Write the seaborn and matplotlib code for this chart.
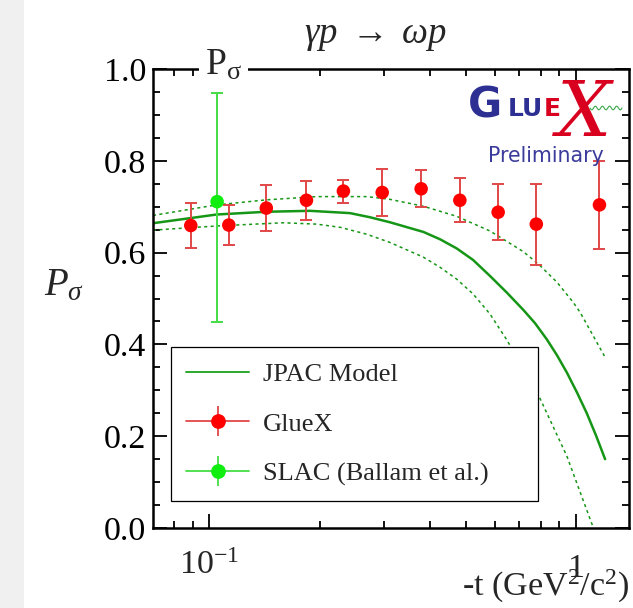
import numpy as np
import matplotlib
matplotlib.use("Agg")
import matplotlib.pyplot as plt
import matplotlib.transforms as mtransforms
import seaborn as sns
from matplotlib.lines import Line2D
from matplotlib.collections import LineCollection
from matplotlib.container import ErrorbarContainer
from matplotlib.legend_handler import HandlerErrorbar
from matplotlib.ticker import FixedLocator, NullFormatter, MultipleLocator, FuncFormatter

# GlueX beam asymmetry P_sigma vs -t
gluex_t = [0.089, 0.113, 0.143, 0.184, 0.232, 0.296, 0.378, 0.482, 0.613, 0.779, 1.158]
gluex_p = [0.659, 0.660, 0.697, 0.714, 0.734, 0.731, 0.739, 0.714, 0.688, 0.662, 0.704]
gluex_err = [0.048, 0.043, 0.051, 0.042, 0.025, 0.052, 0.040, 0.048, 0.061, 0.088, 0.096]

# SLAC measurement (Ballam et al.)
slac_t = [0.105]
slac_p = [0.711]
slac_err_lo = [0.263]
slac_err_hi = [0.236]

# JPAC model: central curve and uncertainty band edges
jpac_t = [0.0702, 0.1047, 0.1434, 0.1882, 0.2419, 0.2742, 0.311, 0.3835, 0.4257,
          0.4728, 0.5237, 0.5826, 0.6471, 0.7183, 0.7731, 0.8321, 0.8875, 0.9432,
          1.006, 1.0695, 1.134, 1.1998]
jpac_p = [0.664, 0.683, 0.689, 0.691, 0.686, 0.677, 0.666, 0.645, 0.629,
          0.609, 0.584, 0.549, 0.513, 0.475, 0.446, 0.411, 0.376, 0.339,
          0.295, 0.250, 0.201, 0.150]

band_hi_t = [0.0702, 0.1047, 0.1434, 0.1963, 0.2687, 0.311, 0.3835, 0.4728, 0.5826,
             0.7183, 0.7943, 0.8857, 0.9813, 1.0254, 1.1998]
band_hi_p = [0.681, 0.704, 0.715, 0.722, 0.722, 0.716, 0.701, 0.679, 0.647,
             0.602, 0.573, 0.536, 0.492, 0.470, 0.372]

band_lo_t = [0.0702, 0.1047, 0.1591, 0.1963, 0.2276, 0.2687, 0.311, 0.3835, 0.4257,
             0.4728, 0.5237, 0.5826, 0.6471, 0.7943, 0.9432, 1.1148]
band_lo_p = [0.649, 0.658, 0.665, 0.662, 0.655, 0.640, 0.622, 0.590, 0.568,
             0.542, 0.510, 0.466, 0.410, 0.285, 0.157, 0.0]

x_minor = [0.08, 0.09, 0.2, 0.3, 0.4, 0.5, 0.6, 0.7, 0.8, 0.9]

sns.set_theme(style="ticks")
plt.rcParams["font.family"] = ["Liberation Serif", "DejaVu Serif"]
plt.rcParams["mathtext.fontset"] = "custom"
plt.rcParams["mathtext.rm"] = "Liberation Serif"
plt.rcParams["mathtext.it"] = "Liberation Serif:italic"
plt.rcParams["mathtext.bf"] = "Liberation Serif:bold"

W, H = 633, 608
fig = plt.figure(figsize=(W / 100, H / 100), dpi=100)
fig.patch.set_facecolor("white")
fig.add_artist(plt.Rectangle((0, 0), 24 / W, 1, transform=fig.transFigure,
                             facecolor="#f0f0f0", edgecolor="none", zorder=0))

L, R, T, B = 153, 629, 69, 528
ax = fig.add_axes([L / W, (H - B) / H, (R - L) / W, (B - T) / H])
ax.set_facecolor("white")

GREEN = "#169616"
RED = "#ff0000"
RED_BAR = "#e04848"
LGREEN = "#10ee10"
LGREEN_BAR = "#44dd44"

# model curves
sns.lineplot(x=jpac_t, y=jpac_p, ax=ax, color=GREEN, lw=1.8, sort=False,
             estimator=None, legend=False, zorder=2)
for bt, bp in ((band_hi_t, band_hi_p), (band_lo_t, band_lo_p)):
    sns.lineplot(x=bt, y=bp, ax=ax, color=GREEN, lw=1.1, sort=False,
                 estimator=None, legend=False, zorder=2, linestyle=(0, (2, 2.2)))

# data points
ax.errorbar(gluex_t, gluex_p, yerr=gluex_err, fmt="none", ecolor=RED_BAR,
            elinewidth=1.4, capsize=4, capthick=1.4, zorder=4)
sns.scatterplot(x=gluex_t, y=gluex_p, ax=ax, color=RED, s=95, edgecolor="none",
                zorder=5, legend=False)
ax.errorbar(slac_t, slac_p, yerr=[slac_err_lo, slac_err_hi], fmt="none",
            ecolor=LGREEN_BAR, elinewidth=1.4, capsize=4, capthick=1.4, zorder=4)
sns.scatterplot(x=slac_t, y=slac_p, ax=ax, color=LGREEN, s=95, edgecolor="none",
                zorder=5, legend=False)

# axes, ticks
ax.set_xscale("log")
ax.set_xlim(0.0702, 1.394)
ax.set_ylim(0, 1)
ax.xaxis.set_major_locator(FixedLocator([0.1, 1.0]))
ax.xaxis.set_minor_locator(FixedLocator(x_minor))
ax.xaxis.set_major_formatter(NullFormatter())
ax.xaxis.set_minor_formatter(NullFormatter())
ax.yaxis.set_major_locator(MultipleLocator(0.2))
ax.yaxis.set_minor_locator(MultipleLocator(0.05))
ax.yaxis.set_major_formatter(FuncFormatter(lambda v, p: f"{v:.1f}"))
ax.tick_params(which="both", direction="in", top=True, right=True,
               width=1.3, color="black")
ax.tick_params(which="major", length=10)
ax.tick_params(which="minor", length=5)
ax.tick_params(axis="y", labelsize=24.5, pad=5, labelcolor="black")
ax.set_xlabel("")
ax.set_ylabel("")
for sp in ax.spines.values():
    sp.set_linewidth(1.8)
    sp.set_color("black")

def ay(ypix):
    return (B - ypix) / (B - T)

def axx(xpix):
    return (xpix - L) / (R - L)

blend = mtransforms.blended_transform_factory(ax.transData, ax.transAxes)
ax.text(0.1, ay(574), r"$\mathrm{10}^{-1}$", transform=blend, ha="center",
        va="baseline", fontsize=24.5, clip_on=False)
ax.text(1.0, ay(577), "1", transform=blend, ha="center", va="baseline",
        fontsize=24.5, clip_on=False)
ax.text(1.0, ay(596), r"-t ($\mathrm{GeV}^{2}/\mathrm{c}^{2}$)", transform=ax.transAxes,
        ha="right", va="baseline", fontsize=24.5, clip_on=False)
ax.text(axx(44), ay(295), r"$P_{\sigma}$", transform=ax.transAxes, ha="left",
        va="baseline", fontsize=28, clip_on=False)
ax.text(axx(205), ay(75), r"$\mathrm{P}_{\mathrm{\sigma}}$", transform=ax.transAxes,
        ha="left", va="baseline", fontsize=27, clip_on=False, zorder=10,
        bbox=dict(facecolor="white", edgecolor="none", pad=4))
ax.text(axx(375.5), ay(43), r"$\gamma p\ \rightarrow\ \omega p$", transform=ax.transAxes,
        ha="center", va="baseline", fontsize=26.5, clip_on=False)

# experiment logo
def fx(xpix):
    return xpix / W

def fy(ypix):
    return 1 - ypix / H

BLUE = "#2d3092"
LOGO_RED = "#d8001e"
fig.text(fx(468), fy(117), "G", color=BLUE, fontsize=30, fontweight="bold",
         family="DejaVu Sans", ha="left", va="baseline", zorder=6)
fig.text(fx(508), fy(116.5), "LU", color=BLUE, fontsize=18, fontweight="bold",
         family="DejaVu Sans", ha="left", va="baseline", zorder=6)
fig.text(fx(544), fy(116.5), "E", color=LOGO_RED, fontsize=18, fontweight="bold",
         family="DejaVu Sans", ha="left", va="baseline", zorder=6)
fig.text(fx(584), fy(136), "X", color=LOGO_RED, fontsize=55, style="italic",
         family="DejaVu Serif", ha="center", va="baseline", zorder=6)
wx = np.linspace(590, 622, 80)
wy = 108 + 1.8 * np.sin((wx - 590) / 32 * 2 * np.pi * 4.5)
fig.add_artist(Line2D(fx(wx), fy(wy), transform=fig.transFigure, color="#3aa84a",
                      lw=0.8, zorder=7))
fig.text(fx(488), fy(162), "Preliminary", color="#3b3b9b", fontsize=14.8,
         family="DejaVu Sans", ha="left", va="baseline", zorder=6)

# legend
def eb_handle(mcolor, lcolor):
    data_line = Line2D([], [], color=lcolor, lw=1.3, marker="o", markersize=9.6,
                       markerfacecolor=mcolor, markeredgecolor=mcolor, linestyle="-")
    bars = LineCollection([], colors=lcolor, linewidths=1.3)
    return ErrorbarContainer((data_line, (), (bars,)), has_xerr=False, has_yerr=True)

h_jpac = Line2D([], [], color="#2aaa2a", lw=1.4)
h_gluex = eb_handle(RED, RED_BAR)
h_slac = eb_handle(LGREEN, LGREEN_BAR)
leg = ax.legend([h_jpac, h_gluex, h_slac],
                ["JPAC Model", "GlueX", "SLAC (Ballam et al.)"],
                loc="upper left", bbox_to_anchor=(axx(171), 0.0, axx(538) - axx(171), ay(347)),
                mode="expand", borderaxespad=0, fontsize=19, handlelength=2.39,
                handletextpad=0.53, labelspacing=1.0, borderpad=0.58, numpoints=1,
                fancybox=False, framealpha=1, edgecolor="black",
                handler_map={ErrorbarContainer: HandlerErrorbar(yerr_size=0.57)})
leg.get_frame().set_linewidth(0.9)
leg.set_zorder(8)

fig.savefig("out.png", dpi=100, facecolor=fig.get_facecolor())
